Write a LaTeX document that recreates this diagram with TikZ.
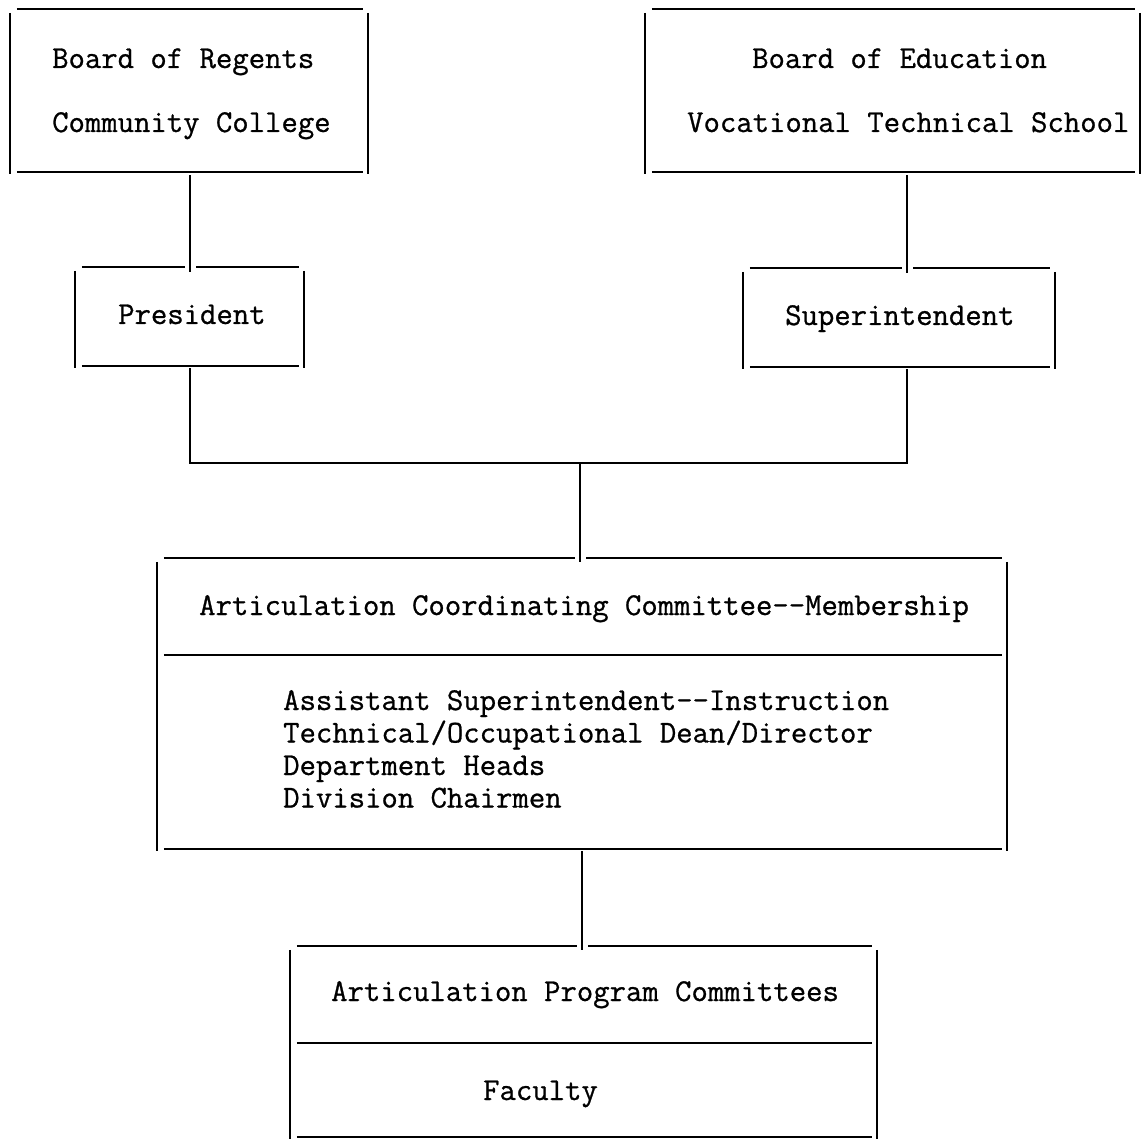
\documentclass[tikz,border=0pt]{standalone}
\usepackage{fontspec}
\newfontfamily\typewriter{Latin Modern Mono}[FakeBold=0.8]
\usetikzlibrary{calc}
\tikzset{
  rule/.style={line width=1.8pt, line cap=butt, black},
  boxshape/.style={rectangle, draw=none, inner sep=0pt},
  txt/.style={anchor=base west, inner sep=0pt, font=\typewriter\fontsize{31.8}{33}\selectfont},
}
\newcommand\typedsides[1]{%
  \draw[rule] ([yshift=-4pt]#1.north west) -- ([yshift=-2pt]#1.south west);
  \draw[rule] ([yshift=-4pt]#1.north east) -- ([yshift=-2pt]#1.south east);
  \draw[rule] ([xshift=7pt]#1.south west) -- ([xshift=-5pt]#1.south east);}
\newcommand\typedtop[1]{%
  \draw[rule] ([xshift=7pt]#1.north west) -- ([xshift=-5pt]#1.north east);}
\newcommand\typedtopgap[2]{%
  \draw[rule] ([xshift=7pt]#1.north west) -- ([xshift=-5pt]#1.north west -| #2);
  \draw[rule] ([xshift=6pt]#1.north west -| #2) -- ([xshift=-5pt]#1.north east);}
\begin{document}
\begin{tikzpicture}[x=1pt,y=-1pt]
\useasboundingbox (0,0) rectangle (1146,1139);
% boxes
\node[boxshape, minimum width=358pt, minimum height=163pt] (bor) at (189,90.5) {};
\node[boxshape, minimum width=495pt, minimum height=163pt] (boe) at (892.5,90.5) {};
\node[boxshape, minimum width=229pt, minimum height=99pt] (pres) at (189.5,316.5) {};
\node[boxshape, minimum width=312pt, minimum height=99pt] (sup) at (899,317.5) {};
\node[boxshape, minimum width=850pt, minimum height=291pt] (acc) at (582,703.5) {};
\node[boxshape, minimum width=587pt, minimum height=191pt] (apc) at (583.5,1041.5) {};
% connector positions
\coordinate (c1) at (190,0);
\coordinate (c2) at (907,0);
\coordinate (j) at (580,463);
\coordinate (c4) at (582,0);
\coordinate (d1) at (0,655);
\coordinate (d2) at (0,1043);
% outlines
\typedsides{bor}\typedtop{bor}
\typedsides{boe}\typedtop{boe}
\typedsides{pres}\typedtopgap{pres}{c1}
\typedsides{sup}\typedtopgap{sup}{c2}
\typedsides{acc}\typedtopgap{acc}{j}
\typedsides{apc}\typedtopgap{apc}{c4}
\draw[rule] ([xshift=7pt]acc.west |- d1) -- ([xshift=-5pt]acc.east |- d1);
\draw[rule] ([xshift=7pt]apc.west |- d2) -- ([xshift=-5pt]apc.east |- d2);
% connectors
\draw[rule] ([yshift=-3pt]bor.south -| c1) -- ([yshift=-5pt]pres.north -| c1);
\draw[rule] ([yshift=-3pt]boe.south -| c2) -- ([yshift=-5pt]sup.north -| c2);
\draw[rule] ([yshift=-2pt]pres.south -| c1) |- (j) -| ([yshift=-2pt]sup.south -| c2);
\draw[rule] (j) -- ([yshift=-4pt]acc.north -| j);
\draw[rule] ([yshift=-2pt]acc.south -| c4) -- ([yshift=-4pt]apc.north -| c4);
% texts
\node[txt] (t1) at (52,68) {Board of Regents};
\node[txt] (t2) at (52,132) {Community College};
\node[txt] (t3) at (752,68) {Board of Education};
\node[txt] (t4) at (687,132) {Vocational Technical School};
\node[txt] (t5) at (118,324) {President};
\node[txt] (t6) at (785,325) {Superintendent};
\node[txt] (t7) at (199,615) {Articulation Coordinating Committee{-}{-}Membership};
\node[txt] (l1) at (283,710) {Assistant Superintendent{-}{-}Instruction};
\node[txt] (l2) at (283,742.5) {Technical/Occupational Dean/Director};
\node[txt] (l3) at (283,775) {Department Heads};
\node[txt] (l4) at (283,807.5) {Division Chairmen};
\node[txt] (t8) at (331,1001) {Articulation Program Committees};
\node[txt] (t9) at (483,1100) {Faculty};
\end{tikzpicture}
\end{document}
